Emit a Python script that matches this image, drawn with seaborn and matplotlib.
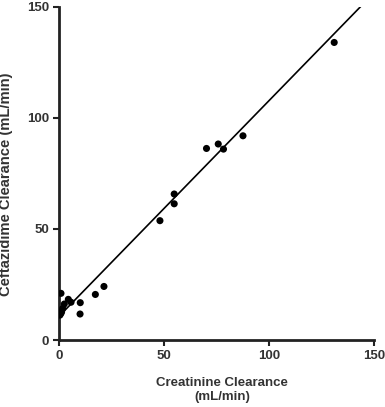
import numpy as np
import pandas as pd
import seaborn as sns
import matplotlib
matplotlib.use("Agg")
import matplotlib.pyplot as plt

# values
creatinine = [131.1, 87.6, 78.3, 75.8, 70.2, 54.8, 54.8, 48.0, 21.3, 17.2,
              10.0, 9.9, 0.8, 4.3, 5.6, 2.4, 1.6, 0.8, 0.3, 1.1]
ceftazidime = [133.9, 91.9, 85.9, 88.2, 86.2, 65.7, 61.3, 53.7, 24.1, 20.5,
               16.8, 11.7, 21.0, 18.3, 17.0, 16.2, 14.2, 12.0, 11.2, 12.7]
fit_x = [0, 145]
fit_slope = 0.969
fit_intercept = 10.8
ticks = [0, 50, 100, 150]

sns.set_style("ticks")
plt.rcParams['font.family'] = ['Liberation Sans', 'DejaVu Sans']
plt.rcParams['font.weight'] = 'bold'

df = pd.DataFrame({"x": creatinine, "y": ceftazidime})
fit = pd.DataFrame({"x": fit_x})
fit["y"] = fit_intercept + fit_slope * fit["x"]

fig = plt.figure(figsize=(3.85, 4.07), dpi=100)
ax = fig.add_axes([0.154, 0.1646, 0.817, 0.819])

sns.lineplot(data=fit, x="x", y="y", color="black", linewidth=1.2, ax=ax)
sns.scatterplot(data=df, x="x", y="y", color="black", s=26, edgecolor="none", ax=ax, zorder=3)

ax.set_xlim(0, 150)
ax.set_ylim(0, 150)
ax.set_xticks(ticks)
ax.set_yticks(ticks)
ax.tick_params(width=1.5, length=4, labelsize=9.5, colors="#222222", labelcolor="#333333")
for lab in ax.get_xticklabels() + ax.get_yticklabels():
    lab.set_fontweight("bold")
sns.despine(ax=ax)
for s in ["left", "bottom"]:
    ax.spines[s].set_linewidth(2)
    ax.spines[s].set_color("#222222")

ax.set_xlabel("Creatinine Clearance\n(mL/min)", fontsize=9.5, fontweight="bold",
              color="#333333", linespacing=1.25, va="center")
ax.xaxis.set_label_coords(0.517, -0.15)
ax.set_ylabel("Ceftazidime Clearance (mL/min)", fontsize=10.6, fontweight="bold",
              color="#333333", va="center")
ax.yaxis.set_label_coords(-0.168, 0.468)

fig.savefig("out.png", dpi=100)
